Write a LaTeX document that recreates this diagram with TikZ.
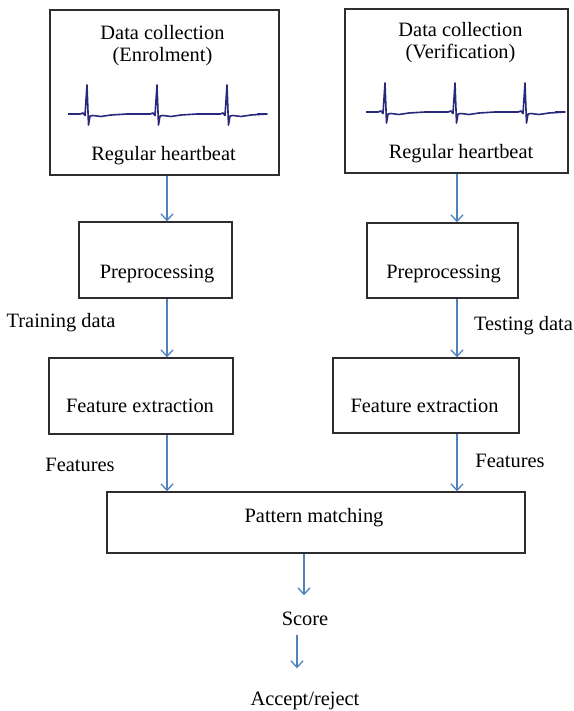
\documentclass[tikz,border=0pt]{standalone}
\usepackage{fontspec}
\setmainfont{Liberation Serif}
\usepackage{tikz}
\usetikzlibrary{arrows.meta}

\definecolor{flowblue}{RGB}{79,129,189}
\definecolor{ecgblue}{RGB}{40,40,125}
\definecolor{boxgray}{RGB}{45,45,45}

% one ECG strip, first R peak at #1, baseline at #2
\newcommand{\ecgtrace}[2]{%
    \begin{scope}[shift={(#1,#2)}]
        \draw[ecg] (-19,0)
            \foreach \b in {0,70,140} {
                -- (\b-7,0) -- (\b-4,-1) -- (\b-2,1.5) -- (\b,-29) -- (\b+1.5,11)
                -- (\b+3,2) -- (\b+6,1.5) -- (\b+14,2.5) -- (\b+24,1) -- (\b+40,0)
            } -- (170,0);
    \end{scope}}

\begin{document}
\begin{tikzpicture}[x=1bp, y=-1bp]
    \tikzstyle{block} = [rectangle, draw=boxgray, line width=1.4bp, inner sep=0pt]
    \tikzstyle{lbl} = [inner sep=0pt, anchor=base, font=\fontsize{20.4bp}{22bp}\selectfont]
    \tikzstyle{flow} = [draw=flowblue, line width=1.3bp, -{Straight Barb[length=6.5bp, width=12bp]}]
    \tikzstyle{ecg} = [ecgblue, line width=1.6bp, line join=round]

    \useasboundingbox (0,0) rectangle (574,711);

    % Columns of the arrows
    \coordinate (colL) at (167,0);
    \coordinate (colR) at (457,0);
    \coordinate (colS) at (304,0);
    \coordinate (colA) at (297,0);

    % Data collection
    \node[block, minimum width=229bp, minimum height=165bp] (enrol) at (164.5,92.5) {};
    \node[block, minimum width=223bp, minimum height=164bp] (verif) at (456.5,91) {};
    \node[lbl, anchor=center, align=center] (enrolt) at (162.5,45.4) {Data collection\\(Enrolment)};
    \node[lbl, anchor=center, align=center] (verift) at (460.5,42.6) {Data collection\\(Verification)};
    \ecgtrace{87}{114}
    \ecgtrace{385}{112}
    \node[lbl] (beatL) at (163.5,160) {Regular heartbeat};
    \node[lbl] (beatR) at (461,158) {Regular heartbeat};

    % Processing blocks
    \node[block, minimum width=153bp, minimum height=76bp] (prepL) at (155.5,260) {};
    \node[block, minimum width=151bp, minimum height=75bp] (prepR) at (442.5,260.5) {};
    \node[lbl] at (157,278) {Preprocessing};
    \node[lbl] at (443.5,278) {Preprocessing};
    \node[block, minimum width=184bp, minimum height=76bp] (featL) at (141,396) {};
    \node[block, minimum width=186bp, minimum height=75bp] (featR) at (426,395.5) {};
    \node[lbl] at (140,412) {Feature extraction};
    \node[lbl] at (424.5,412) {Feature extraction};
    \node[block, minimum width=418bp, minimum height=61bp] (match) at (316,522.5) {};
    \node[lbl] at (314,522) {Pattern matching};

    % Edge labels
    \node[lbl] (train) at (61,327) {Training data};
    \node[lbl] (test) at (523.5,330) {Testing data};
    \node[lbl] (featsL) at (80,471) {Features};
    \node[lbl] (featsR) at (510,467) {Features};
    \node[lbl] (score) at (305,625) {Score};
    \node[lbl] (accept) at (305,705) {Accept/reject};

    % Arrows
    \draw[flow] (enrol.south -| colL) -- (prepL.north -| colL);
    \draw[flow] (prepL.south -| colL) -- (featL.north -| colL);
    \draw[flow] (featL.south -| colL) -- (match.north -| colL);
    \draw[flow] (verif.south -| colR) -- (prepR.north -| colR);
    \draw[flow] (prepR.south -| colR) -- (featR.north -| colR);
    \draw[flow] (featR.south -| colR) -- (match.north -| colR);
    \draw[flow, shorten >=16bp] (match.south -| colS) -- (score.north -| colS);
    \draw[flow, shorten <=10bp, shorten >=23bp] (score.south -| colA) -- (accept.north -| colA);

\end{tikzpicture}
\end{document}
